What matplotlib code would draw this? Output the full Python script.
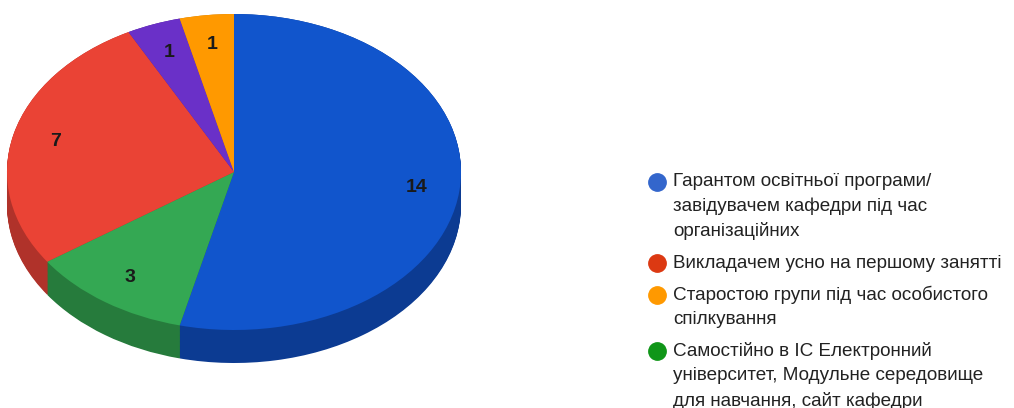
import numpy as np
import matplotlib.pyplot as plt
from matplotlib.lines import Line2D

# slices, clockwise from 12 o'clock
values = [14, 3, 7, 1, 1]
top_colors = ["#1155cc", "#34a853", "#ea4335", "#6a30c8", "#ff9900"]
side_colors = ["#0c3b92", "#267b3c", "#b0322a", "#4c2290", "#c47500"]

# legend (as shown, purple entry is below the visible area)
legend_labels = [
    "Гарантом освітньої програми/\nзавідувачем кафедри під час\nорганізаційних",
    "Викладачем усно на першому занятті",
    "Старостою групи під час особистого\nспілкування",
    "Самостійно в ІС Електронний\nуніверситет, Модульне середовище\nдля навчання, сайт кафедри",
]
legend_colors = ["#3366cc", "#dc3912", "#ff9900", "#109618"]

W, H = 1014, 408
fig = plt.figure(figsize=(W / 100, H / 100), dpi=100)
ax = fig.add_axes([0, 0, 1, 1])

# pie geometry in pixels
cx, cy = 234, 172     # centre of top face (from top)
rx, ry = 227, 158
depth = 33 / ry

# extruded side: stack of darker pies
for d in np.linspace(depth, 0, 40):
    ax.pie(values, colors=side_colors, startangle=90, counterclock=False,
           center=(0, -d), radius=1, wedgeprops=dict(linewidth=0))

ax.pie(values, colors=top_colors, startangle=90, counterclock=False,
       radius=1, labels=[str(v) for v in values], labeldistance=0.81,
       wedgeprops=dict(linewidth=0),
       textprops=dict(fontsize=14, fontweight="bold", color="#1a1a1a",
                      family="Liberation Sans", ha="center", va="center"))

ax.set_aspect("auto")
ax.set_xlim(-cx / rx, (W - cx) / rx)
ax.set_ylim(-(H - cy) / ry, cy / ry)
ax.axis("off")

# legend drawn by hand
lx, tx = 657, 673
y = 182
step, gap = 24.7, 7
for lab, col in zip(legend_labels, legend_colors):
    fig.add_artist(Line2D([lx / W], [1 - y / H], marker="o", ms=12.5,
                          color=col, transform=fig.transFigure))
    for line in lab.split("\n"):
        fig.text(tx / W, 1 - y / H, line, fontsize=13.6, color="#222222",
                 family="Liberation Sans", va="center", ha="left")
        y += step
    y += gap

fig.savefig("out.png", dpi=100)
